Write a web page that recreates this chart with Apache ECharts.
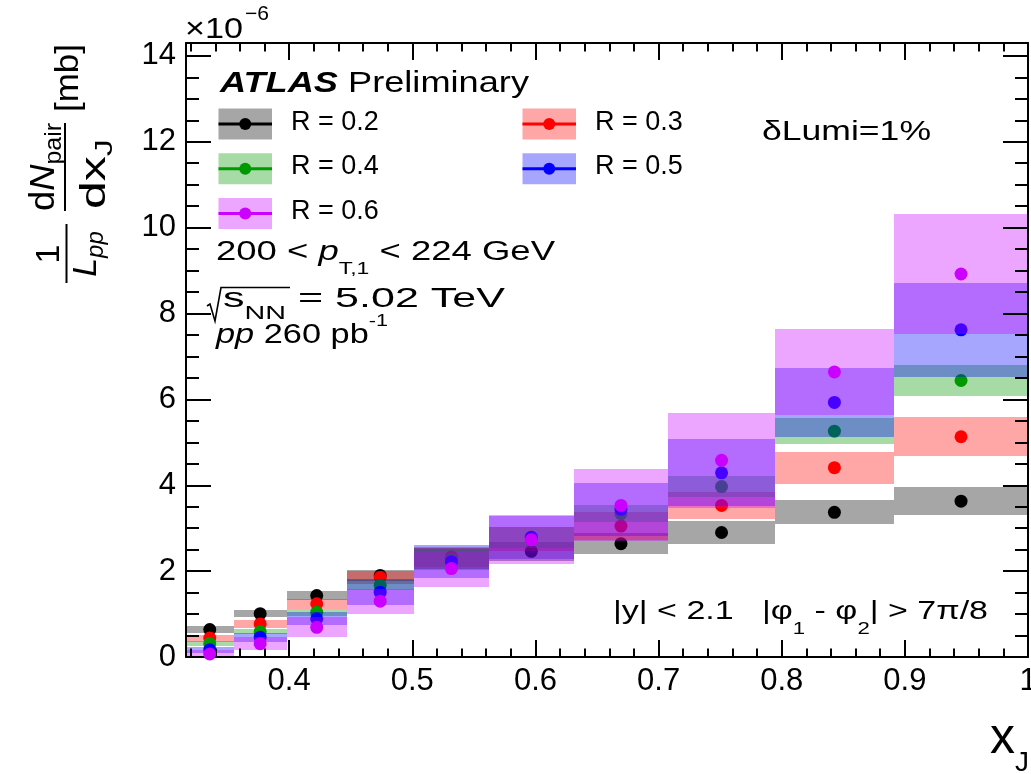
<!DOCTYPE html>
<html>
<head>
<meta charset="utf-8">
<script src="https://cdn.jsdelivr.net/npm/echarts@6/dist/echarts.min.js"></script>
<style>
  html, body { margin: 0; padding: 0; background: #ffffff; }
  #chart { width: 1031px; height: 774px; }
</style>
</head>
<body>
<div id="chart"></div>
<script>
// x_J bin edges (ten logarithmic bins from 10^-0.5 to 1)
const binEdges = [0.31623, 0.35481, 0.39811, 0.44668, 0.50119, 0.56234, 0.63096, 0.70795, 0.79433, 0.89125, 1.0];

const radii = ['R = 0.2', 'R = 0.3', 'R = 0.4', 'R = 0.5', 'R = 0.6'];

// 1/L dN/dx_J in units of 1e-6 mb, with the half-height of each systematic band
const r02Val = [0.64, 1.01, 1.43, 1.90, 2.30, 2.46, 2.64, 2.90, 3.37, 3.63];
const r02Err = [0.08, 0.09, 0.11, 0.13, 0.25, 0.22, 0.25, 0.27, 0.28, 0.33];
const r03Val = [0.44, 0.77, 1.24, 1.85, 2.33, 2.75, 3.05, 3.53, 4.41, 5.13];
const r03Err = [0.08, 0.09, 0.12, 0.15, 0.24, 0.27, 0.32, 0.31, 0.37, 0.45];
const r04Val = [0.31, 0.59, 1.04, 1.67, 2.27, 2.78, 3.34, 3.97, 5.26, 6.44];
const r04Err = [0.06, 0.06, 0.08, 0.12, 0.25, 0.25, 0.20, 0.25, 0.31, 0.35];
const r05Val = [0.17, 0.46, 0.89, 1.51, 2.22, 2.79, 3.44, 4.29, 5.93, 7.62];
const r05Err = [0.07, 0.10, 0.15, 0.30, 0.38, 0.50, 0.62, 0.78, 0.80, 1.10];
const r06Val = [0.07, 0.31, 0.69, 1.30, 2.06, 2.73, 3.53, 4.58, 6.64, 8.92];
const r06Err = [0.09, 0.15, 0.23, 0.29, 0.42, 0.57, 0.84, 1.10, 1.00, 1.40];

// axis ticks
const xMajorTicks = [0.4, 0.5, 0.6, 0.7, 0.8, 0.9, 1.0];
const xTickLabels = ['0.4', '0.5', '0.6', '0.7', '0.8', '0.9', '1'];
const yMajorTicks = [0, 2, 4, 6, 8, 10, 12, 14];
const yTickLabels = ['0', '2', '4', '6', '8', '10', '12', '14'];

const X_MIN = 0.31623, X_MAX = 1.0;
const Y_MIN = 0, Y_MAX = 14.3;

const markerColors = ['#000000', '#ff0000', '#009900', '#0000ff', '#cc00ff'];
const bandColors = ['rgba(0,0,0,0.35)', 'rgba(255,0,0,0.35)', 'rgba(0,153,0,0.35)', 'rgba(0,0,255,0.35)', 'rgba(204,0,255,0.35)'];

const seriesVals = [r02Val, r03Val, r04Val, r05Val, r06Val];
const seriesErrs = [r02Err, r03Err, r04Err, r05Err, r06Err];

// minor ticks: x every 0.02, y every 0.5 (skipping the major positions)
const xMinorTicks = [];
for (let k = 16; k < 50; k++) { if (k % 5 !== 0) xMinorTicks.push(+(k * 0.02).toFixed(2)); }
const yMinorTicks = [];
for (let k = 1; k < 29; k++) { if (k % 4 !== 0) yMinorTicks.push(k * 0.5); }

const FONT = '"Liberation Sans", Arial, Helvetica, sans-serif';
const measureCtx = document.createElement('canvas').getContext('2d');
function fontStr(fs, it, b) {
  return (it ? 'italic ' : '') + (b ? 'bold ' : '') + fs + 'px ' + FONT;
}
// lay out a run of text pieces along a common baseline (sub/superscripts via dy)
function run(x0, baseline, parts, o) {
  o = o || {};
  const items = parts.map(p => {
    const font = fontStr(p.fs, p.it, p.b);
    measureCtx.font = font;
    return { p, font, w: measureCtx.measureText(p.t).width };
  });
  const natural = items.reduce((s, it) => s + it.w + (it.p.dx || 0), 0);
  const sx = o.w ? o.w / natural : (o.sx || 1);
  const total = natural * sx;
  let x = o.align === 'center' ? x0 - total / 2 : (o.align === 'right' ? x0 - total : x0);
  return items.map(it => {
    x += (it.p.dx || 0) * sx;
    const el = {
      type: 'text', x: x, y: baseline + (it.p.dy || 0) - 0.35 * it.p.fs,
      scaleX: sx, z: 100, silent: true,
      style: {
        text: it.p.t, font: it.font, fill: '#000',
        align: 'left', textAlign: 'left', verticalAlign: 'middle', textVerticalAlign: 'middle'
      }
    };
    x += it.w * sx;
    return el;
  });
}

function bandSeries(idx) {
  const vals = seriesVals[idx], errs = seriesErrs[idx];
  const data = vals.map((v, k) => [binEdges[k], binEdges[k + 1], v - errs[k], v + errs[k]]);
  return {
    type: 'custom', name: radii[idx] + ' syst', z: 2 + 2 * idx, silent: true,
    encode: { x: [0, 1], y: [2, 3] },
    data: data,
    renderItem: function (params, api) {
      const a = api.coord([api.value(0), api.value(3)]);
      const b = api.coord([api.value(1), api.value(2)]);
      const x0 = Math.round(a[0]), x1 = Math.round(b[0]);
      const y0 = Math.round(a[1]), y1 = Math.round(b[1]);
      const cs = params.coordSys;
      const shape = echarts.graphic.clipRectByRect(
        { x: x0, y: y0, width: x1 - x0, height: y1 - y0 },
        { x: cs.x, y: cs.y, width: cs.width, height: cs.height });
      if (!shape) return null;
      return { type: 'rect', shape: shape, style: { fill: bandColors[idx] } };
    }
  };
}

function pointSeries(idx) {
  const vals = seriesVals[idx];
  return {
    type: 'scatter', name: radii[idx], z: 3 + 2 * idx, silent: true,
    symbol: 'circle', symbolSize: 13,
    itemStyle: { color: markerColors[idx], opacity: 1 },
    data: vals.map((v, k) => [(binEdges[k] + binEdges[k + 1]) / 2, v])
  };
}

const series = [];
for (let i = 0; i < radii.length; i++) { series.push(bandSeries(i)); series.push(pointSeries(i)); }

const lineStyleAxis = { color: '#000', width: 2 };
function xAx(pos, showLine, ticks, len, withLabels) {
  return {
    type: 'value', position: pos, min: X_MIN, max: X_MAX, offset: 0, z: 10,
    splitLine: { show: false }, minorTick: { show: false },
    axisLine: { show: showLine, onZero: false, lineStyle: lineStyleAxis },
    axisTick: { show: true, inside: true, length: len, customValues: ticks, lineStyle: lineStyleAxis },
    axisLabel: withLabels ? {
      show: true, customValues: xMajorTicks, margin: 9,
      fontSize: 31, fontFamily: FONT, color: '#000',
      formatter: v => { const i = xMajorTicks.findIndex(t => Math.abs(t - v) < 1e-6); return i >= 0 ? xTickLabels[i] : ''; }
    } : { show: false }
  };
}
function yAx(pos, showLine, ticks, len, withLabels) {
  return {
    type: 'value', position: pos, min: Y_MIN, max: Y_MAX, offset: 0, z: 10,
    splitLine: { show: false }, minorTick: { show: false },
    axisLine: { show: showLine, onZero: false, lineStyle: lineStyleAxis },
    axisTick: { show: true, inside: true, length: len, customValues: ticks, lineStyle: lineStyleAxis },
    axisLabel: withLabels ? {
      show: true, customValues: yMajorTicks, margin: 10,
      fontSize: 31, fontFamily: FONT, color: '#000',
      formatter: v => { const i = yMajorTicks.findIndex(t => Math.abs(t - v) < 1e-6); return i >= 0 ? yTickLabels[i] : ''; }
    } : { show: false }
  };
}

// ---- annotations ----
const g = [];
// axis exponent
g.push(...run(185, 40, [{ t: '×10', fs: 30 }], { w: 58 }));
g.push(...run(245, 21.5, [{ t: '−6', fs: 20 }], { w: 24 }));
// experiment label
g.push(...run(220, 94, [{ t: 'ATLAS', fs: 30, it: true, b: true }, { t: ' Preliminary', fs: 30 }], { w: 309 }));
// luminosity uncertainty
g.push(...run(762, 141.7, [{ t: 'δLumi=1%', fs: 28 }], { w: 169 }));
// kinematic selection
g.push(...run(216, 262, [
  { t: '200 < ', fs: 27 }, { t: 'p', fs: 27, it: true }, { t: 'T,1', fs: 17, dy: 13.3 }, { t: ' < 224 GeV', fs: 27 }
], { w: 339 }));
// collision energy with a drawn radical sign
g.push({
  type: 'polyline', z: 100, silent: true,
  shape: { points: [[207, 306], [210, 304], [215, 321], [221, 287.5], [290, 287.5]] },
  style: { stroke: '#000', lineWidth: 1.6, fill: null }
});
g.push(...run(223, 308.5, [
  { t: 's', fs: 27 }, { t: 'NN', fs: 18, dy: 11.7 }, { t: ' = 5.02 TeV', fs: 27 }
], { w: 282 }));
// dataset
g.push(...run(216, 345, [
  { t: 'pp', fs: 27, it: true }, { t: ' 260 pb', fs: 27 }, { t: '-1', fs: 17, dy: -18 }
], { w: 172 }));
// rapidity / azimuth selection
g.push(...run(613, 621, [
  { t: '|y| < 2.1   |φ', fs: 26 }, { t: '1', fs: 17, dy: 14 }, { t: ' - φ', fs: 26 },
  { t: '2', fs: 17, dy: 14 }, { t: '| > 7π/8', fs: 26 }
], { w: 375 }));
// x-axis title
g.push(...run(990, 757, [{ t: 'x', fs: 50 }, { t: 'J', fs: 28, dy: 16 }]));

// legend: band swatch, line and marker, label
radii.forEach((name, i) => {
  const col = i % 2, row = Math.floor(i / 2);
  const bx = 218.5 + col * 304, cy = 124 + row * 44.7;
  g.push({ type: 'rect', z: 100, silent: true, shape: { x: bx, y: cy - 15.5, width: 53.5, height: 31 }, style: { fill: bandColors[i] } });
  g.push({ type: 'line', z: 101, silent: true, shape: { x1: bx, y1: cy, x2: bx + 53.5, y2: cy }, style: { stroke: markerColors[i], lineWidth: 3 } });
  g.push({ type: 'circle', z: 102, silent: true, shape: { cx: bx + 26.75, cy: cy, r: 6 }, style: { fill: markerColors[i] } });
  g.push(...run(bx + 72.5, cy + 7.7, [{ t: name, fs: 27 }]));
});

// y-axis title, built horizontally then turned a quarter turn (local x = -screen y, local y = screen x)
const yTitle = [];
yTitle.push(...run(-254, 62, [{ t: '1', fs: 34 }], { align: 'center' }));
yTitle.push({ type: 'line', shape: { x1: -283, y1: 66.5, x2: -224, y2: 66.5 }, style: { stroke: '#000', lineWidth: 2 } });
yTitle.push(...run(-254, 98, [{ t: 'L', fs: 34, it: true }, { t: 'pp', fs: 24, it: true, dy: 7 }], { align: 'center' }));
yTitle.push(...run(-167, 57, [{ t: 'd', fs: 35 }, { t: 'N', fs: 35, it: true }, { t: 'pair', fs: 24, dy: 6 }], { align: 'center', w: 88 }));
yTitle.push({ type: 'line', shape: { x1: -211, y1: 65, x2: -123, y2: 65 }, style: { stroke: '#000', lineWidth: 2 } });
yTitle.push(...run(-174, 108, [{ t: 'dx', fs: 35 }, { t: 'J', fs: 24, dy: 6 }], { align: 'center', w: 70 }));
yTitle.push(...run(-112, 80, [{ t: '[mb]', fs: 33 }], { w: 68 }));
g.push({ type: 'group', x: 0, y: 0, rotation: Math.PI / 2, z: 100, silent: true, children: yTitle });

const option = {
  animation: false,
  backgroundColor: '#ffffff',
  grid: { left: 186, right: 3, top: 43, bottom: 117, show: false, containLabel: false, outerBoundsMode: 'none' },
  xAxis: [
    xAx('bottom', true, xMajorTicks, 17, true),
    xAx('bottom', false, xMinorTicks, 8.5, false),
    xAx('top', true, xMajorTicks, 17, false),
    xAx('top', false, xMinorTicks, 8.5, false)
  ],
  yAxis: [
    yAx('left', true, yMajorTicks, 25, true),
    yAx('left', false, yMinorTicks, 13, false),
    yAx('right', true, yMajorTicks, 25, false),
    yAx('right', false, yMinorTicks, 13, false)
  ],
  series: series,
  graphic: { elements: g }
};

const chart = echarts.init(document.getElementById('chart'), null, { renderer: 'canvas' });
chart.setOption(option);
</script>
</body>
</html>
